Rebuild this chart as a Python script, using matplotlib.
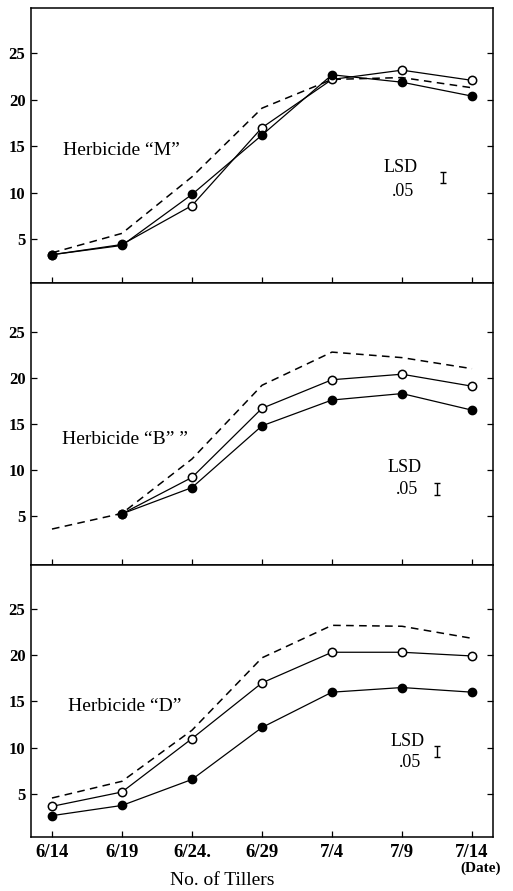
import matplotlib.pyplot as plt

dates = ["6/14", "6/19", "6/24.", "6/29", "7/4", "7/9", "7/14"]
x = list(range(len(dates)))

# herbicide M
m_dash = [3.5, 5.6, 11.7, 19.1, 22.2, 22.4, 21.3]
m_open = [3.3, 4.4, 8.6, 17.0, 22.2, 23.2, 22.1]
m_fill = [3.3, 4.3, 9.8, 16.2, 22.7, 21.9, 20.4]

# herbicide B (treated lines start at 6/19)
b_dash = [3.6, 5.3, 11.2, 19.2, 22.8, 22.2, 21.0]
b_open = [None, 5.25, 9.2, 16.7, 19.8, 20.4, 19.1]
b_fill = [None, 5.25, 8.1, 14.8, 17.6, 18.3, 16.5]

# herbicide D
d_dash = [4.6, 6.4, 11.9, 19.7, 23.2, 23.1, 21.8]
d_open = [3.7, 5.25, 11.0, 17.0, 20.3, 20.3, 19.9]
d_fill = [2.7, 3.8, 6.6, 12.2, 16.0, 16.5, 16.0]

labels = ["Herbicide \u201cM\u201d", "Herbicide \u201cB\u201d \u201d", "Herbicide \u201cD\u201d"]
lsd = [1.2, 1.3, 1.1]
yticks = [5, 10, 15, 20, 25]

plt.rcParams["font.family"] = ["Liberation Serif", "DejaVu Serif"]

fig = plt.figure(figsize=(5.13, 8.91), dpi=100)
# panel boxes in figure fractions: (bottom, height, ylim)
boxes = [
    (0.6824, 0.3086, (0.25, 29.9)),
    (0.3659, 0.3165, (-0.3, 30.3)),
    (0.0606, 0.3053, (0.4, 29.7)),
]
panels = [(m_dash, m_open, m_fill), (b_dash, b_open, b_fill), (d_dash, d_open, d_fill)]
label_pos = [(0.07, 0.465), (0.067, 0.43), (0.08, 0.463)]
# LSD text x, LSD y, .05 y, bar x, bar y
lsd_pos = [(4.73, 12.2, 9.6, 5.59, 11.6),
           (4.79, 9.8, 7.4, 5.5, 7.9),
           (4.83, 10.2, 7.9, 5.5, 9.6)]

for i, ((b, h, yl), (dash, opn, fil)) in enumerate(zip(boxes, panels)):
    ax = fig.add_axes([0.0604, b, 0.9006, h])
    ax.plot(x, dash, color="black", lw=1.1, ls=(0, (5, 3.5)))
    xs = [xi for xi, v in zip(x, opn) if v is not None]
    ax.plot(xs, [v for v in opn if v is not None], color="black", lw=0.9,
            marker="o", ms=6, mfc="white", mec="black", mew=1.1)
    xs = [xi for xi, v in zip(x, fil) if v is not None]
    ax.plot(xs, [v for v in fil if v is not None], color="black", lw=0.9,
            marker="o", ms=6, mfc="black", mec="black")
    ax.set_xlim(-0.3, 6.3)
    ax.set_ylim(*yl)
    ax.set_yticks(yticks)
    ax.tick_params(direction="in", length=4, width=0.9, right=True,
                   labelsize=12, pad=4)
    for lab in ax.get_yticklabels():
        lab.set_fontweight("bold")
    ax.set_xticks(x)
    for sp in ax.spines.values():
        sp.set_linewidth(1.1)
    ax.text(label_pos[i][0], label_pos[i][1], labels[i], transform=ax.transAxes,
            fontsize=14, va="baseline")
    lx, ly, ly2, ex, ey = lsd_pos[i]
    ax.text(lx, ly, "LSD", fontsize=13, va="baseline")
    ax.text(lx + 0.12, ly2, ".05", fontsize=13, va="baseline")
    ax.errorbar([ex], [ey], yerr=[lsd[i] / 2], fmt="none", ecolor="black",
                elinewidth=1.0, capsize=2.5, capthick=1.0)
    if i < 2:
        ax.set_xticklabels([])
    else:
        ax.set_xticklabels(dates, fontsize=13.5, fontweight="bold")
        ax.tick_params(axis="x", pad=5)

fig.text(0.936, 0.026, "(Date)", fontsize=11, ha="center", va="center",
         fontweight="bold")
fig.text(0.433, 0.012, "No. of Tillers", fontsize=14, ha="center", va="center")

fig.savefig("out.png", dpi=100)
